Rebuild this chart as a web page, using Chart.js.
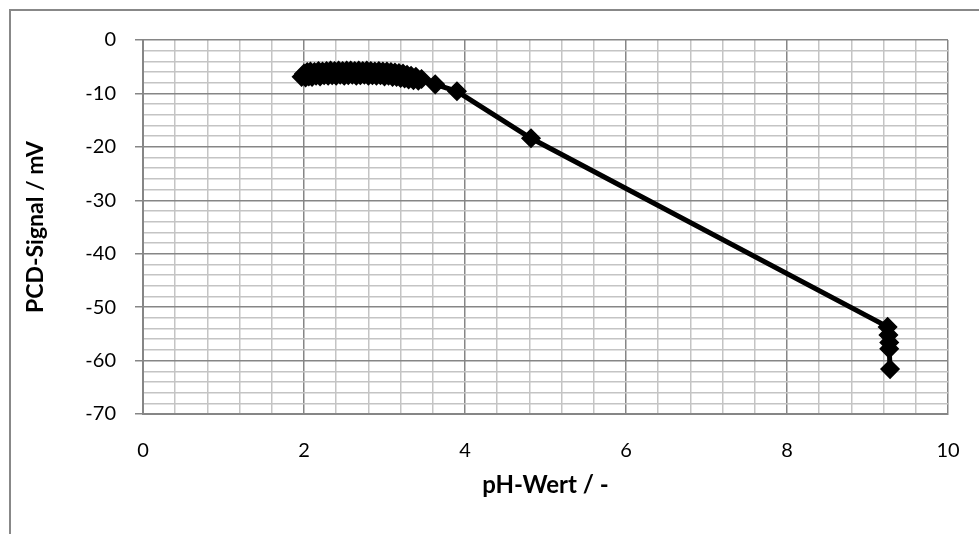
<!DOCTYPE html>
<html>
<head>
<meta charset="utf-8">
<script src="https://cdn.jsdelivr.net/npm/chart.js@4/dist/chart.umd.min.js"></script>
<style>
  html, body { margin: 0; padding: 0; background: #fff; }
  #frame { position: absolute; left: 9px; top: 9px; width: 1100px; height: 700px; border-left: 2px solid #888; border-top: 2px solid #888; }
  #wrap { position: absolute; left: 0; top: 0; width: 979px; height: 534px; }
</style>
</head>
<body>
<div id="frame"></div>
<div id="wrap"><canvas id="myChart" width="979" height="534"></canvas></div>
<script>
// pH values and PCD signal (mV)
var phValues = [
  1.97, 2.00, 2.02, 2.04, 2.06, 2.08, 2.10, 2.13, 2.15, 2.18,
  2.20, 2.23, 2.25, 2.28, 2.30, 2.33, 2.35, 2.38, 2.40, 2.43,
  2.45, 2.48, 2.50, 2.53, 2.55, 2.58, 2.60, 2.63, 2.65, 2.68,
  2.70, 2.73, 2.75, 2.78, 2.80, 2.83, 2.85, 2.88, 2.90, 2.93,
  2.95, 2.98, 3.00, 3.03, 3.05, 3.08, 3.10, 3.13, 3.15, 3.18,
  3.20, 3.23, 3.25, 3.28, 3.30, 3.33, 3.36, 3.39, 3.42, 3.46,
  3.63, 3.90, 4.82, 9.25, 9.26, 9.27, 9.27, 9.28
];
var pcdValues = [
  -6.9, -6.3, -7.0, -6.0, -6.8, -5.9, -6.9, -6.0, -6.7, -5.8,
  -6.8, -5.9, -6.6, -5.8, -6.7, -5.7, -6.6, -5.8, -6.7, -5.7,
  -6.5, -5.8, -6.7, -5.7, -6.6, -5.7, -6.5, -5.8, -6.7, -5.7,
  -6.6, -5.8, -6.5, -5.7, -6.7, -5.8, -6.6, -5.9, -6.7, -5.8,
  -6.6, -5.9, -6.8, -5.9, -6.7, -6.0, -6.9, -6.1, -6.9, -6.2,
  -7.1, -6.3, -7.2, -6.5, -7.4, -6.7, -7.5, -6.9, -7.6, -7.3,
  -8.3, -9.6, -18.4, -53.7, -55.2, -56.6, -57.8, -61.6
];
var xTickLabels = [0, 2, 4, 6, 8, 10];
var yTickLabels = [0, -10, -20, -30, -40, -50, -60, -70];

var points = phValues.map((ph, i) => ({ x: ph, y: pcdValues[i] }));

function isLabelled(list, v) {
  return list.some((t) => Math.abs(t - v) < 1e-6);
}

var fontFamily = "Lato, 'Open Sans', sans-serif";

var ctx = document.getElementById("myChart").getContext("2d");
var pcdChart = new Chart(ctx, {
  type: "scatter",
  data: {
    datasets: [
      {
        label: "PCD",
        data: points,
        showLine: true,
        borderColor: "#000",
        backgroundColor: "#000",
        borderWidth: 5,
        pointStyle: "rectRot",
        pointRadius: 9,
        pointBorderWidth: 1.5,
        pointBorderColor: "#000",
        pointBackgroundColor: "#000",
      },
    ],
  },
  options: {
    responsive: false,
    animation: false,
    layout: { padding: { left: 0, right: 31, top: 40, bottom: 0 } },
    plugins: { legend: { display: false }, tooltip: { enabled: false } },
    scales: {
      x: {
        type: "linear",
        min: 0,
        max: 10,
        afterFit: (scale) => {
          scale.height = 120;
          scale.paddingLeft = 0;
          scale.paddingRight = 0;
        },
        ticks: {
          stepSize: 0.4,
          autoSkip: false,
          maxRotation: 0,
          padding: 25,
          color: "#000",
          font: { family: fontFamily, size: 20 },
          callback: (v) => (isLabelled(xTickLabels, v) ? Math.round(v) : ""),
        },
        grid: {
          drawTicks: false,
          lineWidth: 1.5,
          color: (c) => (isLabelled(xTickLabels, c.tick.value) ? "#868686" : "#c4c4c4"),
        },
        border: { color: "#868686", width: 2 },
        title: {
          display: true,
          text: "pH-Wert / -",
          color: "#000",
          font: { family: fontFamily, size: 24, weight: "bold" },
          padding: { top: 0, bottom: 34 },
        },
      },
      y: {
        type: "linear",
        min: -70,
        max: 0,
        afterFit: (scale) => { scale.width = 143; },
        ticks: {
          stepSize: 2,
          autoSkip: false,
          padding: 19,
          color: "#000",
          font: { family: fontFamily, size: 20 },
          callback: (v) => (isLabelled(yTickLabels, v) ? Math.round(v) : ""),
        },
        grid: {
          tickLength: 8,
          lineWidth: 1.5,
          color: (c) => (isLabelled(yTickLabels, c.tick.value) ? "#868686" : "#c4c4c4"),
          tickColor: (c) => (isLabelled(yTickLabels, c.tick.value) ? "#868686" : "rgba(0,0,0,0)"),
        },
        border: { color: "#868686", width: 2 },
        title: {
          display: true,
          text: "PCD-Signal / mV",
          color: "#000",
          font: { family: fontFamily, size: 23, weight: "bold" },
          padding: { top: 22, bottom: 0 },
        },
      },
    },
  },
});
</script>
</body>
</html>
